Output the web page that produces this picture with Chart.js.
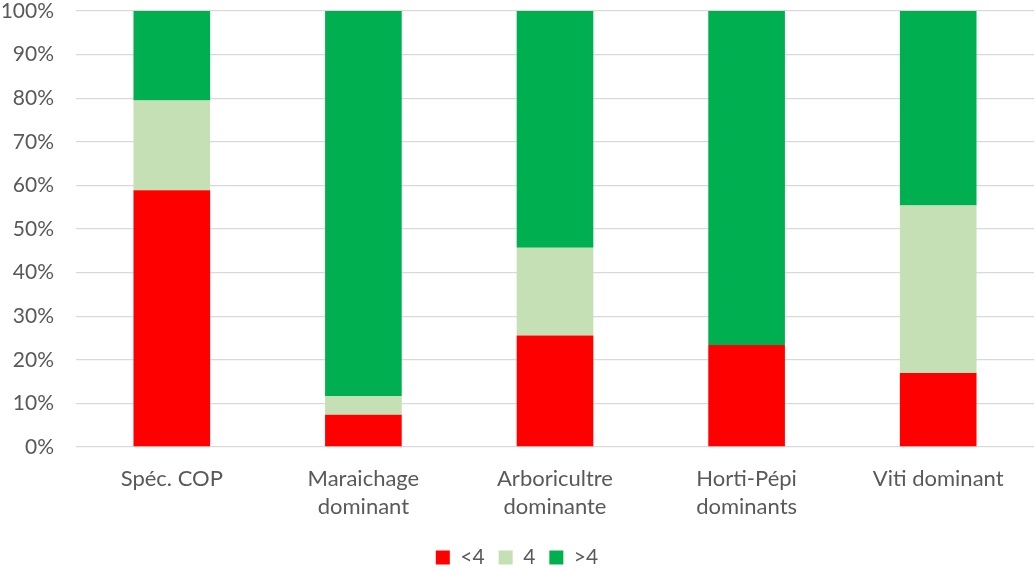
<!DOCTYPE html>
<html>
<head>
<meta charset="utf-8">
<script src="https://cdn.jsdelivr.net/npm/chart.js@4/dist/chart.umd.min.js"></script>
<style>
  html, body { margin: 0; padding: 0; background: #ffffff; }
  #wrap { width: 1035px; height: 570px; position: relative; }
</style>
</head>
<body>
<div id="wrap"><canvas id="c"></canvas></div>
<script>
// Répartition par orientation (parts en %)
const categories = [
  'Spéc. COP',
  ['Maraichage', 'dominant'],
  ['Arboricultre', 'dominante'],
  ['Horti-Pépi', 'dominants'],
  'Viti dominant'
];
const seriesNames = ['<4', '4', '>4'];
const lessThan4 = [58.9, 7.4, 25.6, 23.4, 17.0];
const equal4    = [20.6, 4.3, 20.1, 0.0, 38.4];
const moreThan4 = [20.5, 88.3, 54.3, 76.6, 44.6];
const yTicks = [0, 10, 20, 30, 40, 50, 60, 70, 80, 90, 100];

const colors = ['#FF0000', '#C5E0B4', '#00B050'];
const textColor = '#595959';
const fontFamily = 'Lato, "Open Sans", sans-serif';

new Chart(document.getElementById('c'), {
  type: 'bar',
  data: {
    labels: categories,
    datasets: [lessThan4, equal4, moreThan4].map((vals, i) => ({
      label: seriesNames[i],
      data: vals,
      backgroundColor: colors[i],
      borderWidth: 0,
      categoryPercentage: 1.0,
      barPercentage: 0.4
    }))
  },
  options: {
    responsive: true,
    maintainAspectRatio: false,
    animation: false,
    layout: { padding: { top: 0, right: 1, bottom: -8, left: 0 } },
    plugins: {
      tooltip: { enabled: false },
      legend: {
        position: 'bottom',
        labels: {
          color: textColor,
          font: { family: fontFamily, size: 21 },
          boxWidth: 14,
          boxHeight: 14,
          padding: 14
        }
      }
    },
    scales: {
      x: {
        stacked: true,
        grid: { display: false, drawTicks: false },
        border: { display: false },
        ticks: {
          color: textColor,
          font: { family: fontFamily, size: 22, lineHeight: 1.27 },
          padding: 18,
          maxRotation: 0,
          autoSkip: false
        },
        afterFit(scale) { scale.height = 86; }
      },
      y: {
        stacked: true,
        min: 0,
        max: 100,
        afterBuildTicks(scale) { scale.ticks = yTicks.map(v => ({ value: v })); },
        grid: { color: '#D9D9D9', lineWidth: 1.3, drawTicks: false },
        border: { display: false },
        ticks: {
          color: textColor,
          font: { family: fontFamily, size: 21 },
          padding: 22,
          callback: v => v + '%'
        },
        afterFit(scale) {
          scale.width = 76;
          scale.paddingTop = 11;
          scale.paddingBottom = 11;
        }
      }
    }
  }
});
</script>
</body>
</html>
